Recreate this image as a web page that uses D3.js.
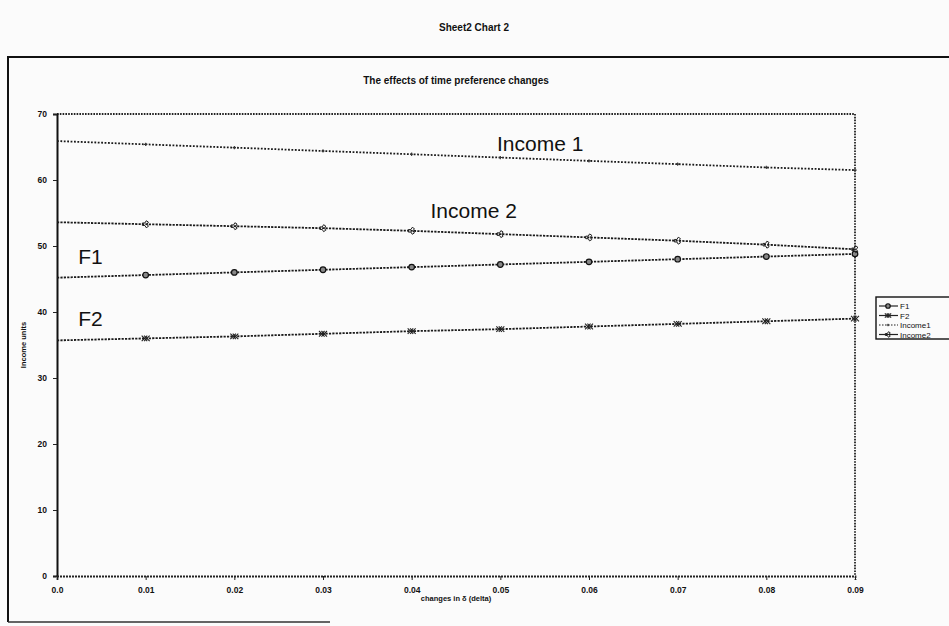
<!DOCTYPE html>
<html>
<head>
<meta charset="utf-8">
<script src="https://cdn.jsdelivr.net/npm/d3@7"></script>
<style>
  html, body { margin: 0; padding: 0; background: #fbfbfb; }
  svg { display: block; }
  text { font-family: "Liberation Sans", Arial, sans-serif; fill: #111; }
</style>
</head>
<body>
<svg id="chart" width="949" height="626"></svg>
<script>
// Discount-rate steps (delta) on the horizontal axis
const deltas = [0.0, 0.01, 0.02, 0.03, 0.04, 0.05, 0.06, 0.07, 0.08, 0.09];
const xTickLabels = ["0.0", "0.01", "0.02", "0.03", "0.04", "0.05", "0.06", "0.07", "0.08", "0.09"];
const yTicks = [0, 10, 20, 30, 40, 50, 60, 70];

// Series values (income units)
const f1 = [45.2, 45.6, 46.0, 46.4, 46.8, 47.2, 47.6, 48.0, 48.4, 48.8];
const f2 = [35.7, 36.0, 36.3, 36.7, 37.1, 37.4, 37.8, 38.2, 38.6, 39.0];
const income1 = [65.9, 65.4, 64.9, 64.4, 63.9, 63.4, 62.9, 62.4, 61.9, 61.5];
const income2 = [53.6, 53.3, 53.0, 52.7, 52.3, 51.8, 51.3, 50.8, 50.2, 49.5];

const seriesNames = ["F1", "F2", "Income1", "Income2"];

// In-plot series labels, placed in data units
const noteTexts = ["Income 1", "Income 2", "F1", "F2"];
const noteX = [0.0545, 0.047, 0.0024, 0.0024];
const noteY = [64.4, 54.2, 47.3, 37.9];

const svg = d3.select("#chart");

const x = d3.scaleLinear().domain([0, 0.09]).range([57, 855]);
const y = d3.scaleLinear().domain([0, 70]).range([576, 114]);

// Page heading and outer chart frame
svg.append("text").attr("x", 474).attr("y", 31).attr("text-anchor", "middle")
  .attr("font-size", 10).attr("font-weight", "bold").text("Sheet2 Chart 2");

svg.append("path")
  .attr("d", "M8,622 L8,57 L949,57")
  .attr("fill", "none").attr("stroke", "#111").attr("stroke-width", 2);
svg.append("line").attr("x1", 8).attr("x2", 330).attr("y1", 622).attr("y2", 622)
  .attr("stroke", "#333").attr("stroke-width", 1.5);

svg.append("text").attr("x", 456).attr("y", 84).attr("text-anchor", "middle")
  .attr("font-size", 10).attr("font-weight", "bold").text("The effects of time preference changes");

// Plot frame: dotted top and right edges
svg.append("path")
  .attr("d", `M${x(0)},${y(70)} L${x(0.09)},${y(70)} L${x(0.09)},${y(0)}`)
  .attr("fill", "none").attr("stroke", "#222").attr("stroke-width", 1.8)
  .attr("stroke-dasharray", "1.6,1.2");

// Y axis
const yAxis = d3.axisLeft(y).tickValues(yTicks).tickSize(4).tickPadding(6).tickFormat(d3.format("d"));
const gy = svg.append("g").attr("transform", `translate(${x(0)},0)`).call(yAxis);
gy.select(".domain").attr("stroke", "#111").attr("stroke-width", 2);
gy.selectAll(".tick line").attr("stroke", "#222");
gy.selectAll(".tick text").attr("font-size", 8.5).attr("font-weight", "bold")
  .attr("font-family", "Liberation Sans, Arial, sans-serif");

// X axis
const xAxis = d3.axisBottom(x).tickValues(deltas).tickSize(4).tickPadding(7)
  .tickFormat((d, i) => xTickLabels[i]);
const gx = svg.append("g").attr("transform", `translate(0,${y(0)})`).call(xAxis);
gx.select(".domain").attr("stroke", "#222").attr("stroke-width", 1.8).attr("stroke-dasharray", "2,1");
gx.selectAll(".tick line").attr("stroke", "#222");
gx.selectAll(".tick text").attr("font-size", 8.5).attr("font-weight", "bold")
  .attr("font-family", "Liberation Sans, Arial, sans-serif");

// Axis titles
svg.append("text").attr("transform", `translate(26,${y(35)}) rotate(-90)`)
  .attr("text-anchor", "middle").attr("font-size", 7.5).attr("font-weight", "bold").text("Income units");
svg.append("text").attr("x", 456).attr("y", 601).attr("text-anchor", "middle")
  .attr("font-size", 7.5).attr("font-weight", "bold").text("changes in δ (delta)");

// Series lines
const line = d3.line().x((d, i) => x(deltas[i])).y(d => y(d));
const lineStyles = {
  F1: { data: f1, dash: "2.2,1.2" },
  F2: { data: f2, dash: "2.2,1.2" },
  Income1: { data: income1, dash: "1.8,1.6" },
  Income2: { data: income2, dash: "2.2,1.2" }
};

seriesNames.forEach(name => {
  const s = lineStyles[name];
  svg.append("path").datum(s.data).attr("d", line)
    .attr("fill", "none").attr("stroke", "#1a1a1a").attr("stroke-width", 1.8)
    .attr("stroke-dasharray", s.dash);
});

// Markers
function drawMarker(g, name, cx, cy, scale) {
  const k = scale || 1;
  if (name === "F1") {
    g.append("circle").attr("cx", cx).attr("cy", cy).attr("r", 2.8 * k)
      .attr("fill", "#888").attr("stroke", "#111").attr("stroke-width", 1.2);
  } else if (name === "F2") {
    const sym = d3.symbol().type(d3.symbolX).size(22 * k * k);
    g.append("path").attr("d", sym).attr("transform", `translate(${cx - 1.2 * k},${cy})`)
      .attr("fill", "none").attr("stroke", "#222").attr("stroke-width", 1.1);
    g.append("path").attr("d", sym).attr("transform", `translate(${cx + 1.2 * k},${cy})`)
      .attr("fill", "none").attr("stroke", "#222").attr("stroke-width", 1.1);
  } else if (name === "Income1") {
    g.append("path").attr("d", d3.symbol().type(d3.symbolCross).size(6 * k * k))
      .attr("transform", `translate(${cx},${cy})`).attr("fill", "#333");
  } else if (name === "Income2") {
    g.append("path").attr("d", d3.symbol().type(d3.symbolWye).size(22 * k * k))
      .attr("transform", `translate(${cx},${cy}) rotate(90)`)
      .attr("fill", "none").attr("stroke", "#222").attr("stroke-width", 1);
  }
}

const markerLayer = svg.append("g");
seriesNames.forEach(name => {
  lineStyles[name].data.forEach((v, i) => {
    if (i === 0) return;
    drawMarker(markerLayer, name, x(deltas[i]), y(v));
  });
});

// In-plot series annotations
noteTexts.forEach((t, i) => {
  svg.append("text").attr("x", x(noteX[i])).attr("y", y(noteY[i]))
    .attr("text-anchor", t.length > 2 ? "middle" : "start")
    .attr("font-size", 21).text(t);
});

// Legend
const legend = svg.append("g").attr("transform", "translate(876,297)");
legend.append("rect").attr("x", 0).attr("y", 0).attr("width", 80).attr("height", 42)
  .attr("fill", "#fbfbfb").attr("stroke", "#111").attr("stroke-width", 1.4);
seriesNames.forEach((name, i) => {
  const ly = 9 + i * 9.5;
  legend.append("line").attr("x1", 3).attr("x2", 22).attr("y1", ly).attr("y2", ly)
    .attr("stroke", "#222").attr("stroke-width", 1.2)
    .attr("stroke-dasharray", name === "Income1" ? "1.5,1.5" : null);
  drawMarker(legend, name, 12, ly, 0.8);
  legend.append("text").attr("x", 24).attr("y", ly + 3).attr("font-size", 8).text(name);
});
</script>
</body>
</html>
